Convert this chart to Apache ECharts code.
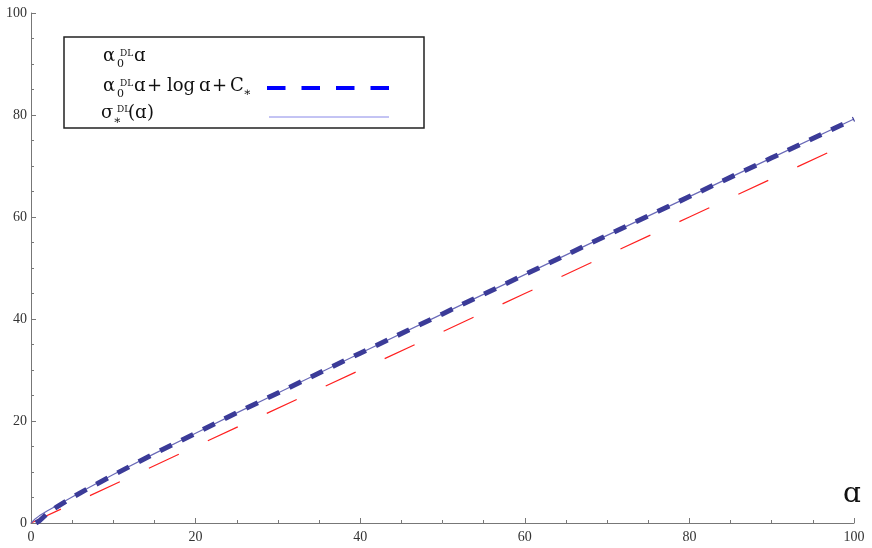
<!DOCTYPE html>
<html>
<head>
<meta charset="utf-8">
<script src="https://cdn.jsdelivr.net/npm/echarts@6/dist/echarts.min.js"></script>
<style>
  html, body { margin: 0; padding: 0; background: #fff; }
  #chart { width: 872px; height: 548px; }
</style>
</head>
<body>
<div id="chart"></div>
<script>
// values

// alpha0 * a (red long dashes)
const linA = [0, 20, 40, 60, 80, 100];
const linVals = [0, 15, 30, 45, 60, 75];

// alpha0 * a + log a + C* (thick dashed)
const asymA = [0.6, 1, 2, 3, 5, 7, 10, 15, 20, 25, 30, 40, 50, 60, 70, 80, 90, 100];
const asymVals = [0, 0.4, 1.9, 3.0, 5.0, 6.8, 9.4, 13.6, 17.6, 21.6, 25.5, 33.3, 41.0, 48.7, 56.4, 64.0, 71.6, 79.2];

// sigma*(a) (thin line)
const sigA = [0, 0.5, 1, 2, 3, 5, 7, 10, 15, 20, 25, 30, 40, 50, 60, 70, 80, 90, 100];
const sigVals = [0, 0.8, 1.4, 2.4, 3.3, 5.1, 6.9, 9.5, 13.6, 17.6, 21.6, 25.5, 33.3, 41.0, 48.7, 56.4, 64.0, 71.6, 79.2];

const serif = '"Liberation Serif", "DejaVu Serif", serif';
const mathFont = '"DejaVu Serif", serif';
const axisGray = '#777';

// text piece placed on a baseline
const txt = (x, base, text, size) => ({
  type: 'text',
  left: x,
  top: base - size * 0.76,
  z: 12,
  style: { text: text, font: size + 'px ' + mathFont, fill: '#111' }
});

const zip = (xs, ys) => xs.map((x, i) => [x, ys[i]]);

const chart = echarts.init(document.getElementById('chart'));

const axisCommon = {
  type: 'value',
  min: 0,
  max: 100,
  interval: 20,
  axisLine: { show: true, onZero: false, lineStyle: { color: axisGray, width: 1 } },
  axisTick: { show: true, inside: true, length: 5, lineStyle: { color: axisGray } },
  minorTick: { show: true, splitNumber: 4, length: 3, lineStyle: { color: axisGray } },
  splitLine: { show: false },
  axisLabel: { color: '#333', fontFamily: serif, fontSize: 14 }
};

const L1 = 61, L2 = 91, L3 = 118;
const M = 18;   // main legend glyph size

chart.setOption({
  animation: false,
  backgroundColor: '#fff',
  grid: { left: 31, right: 18, top: 13, bottom: 25 },
  xAxis: Object.assign({}, axisCommon, {
    axisLabel: Object.assign({}, axisCommon.axisLabel, { margin: 7 })
  }),
  yAxis: Object.assign({}, axisCommon, {
    axisLabel: Object.assign({}, axisCommon.axisLabel, { margin: 4 })
  }),
  series: [
    {
      type: 'line',
      data: zip(linA, linVals),
      symbol: 'none',
      lineStyle: { color: '#ff2020', width: 1.2, type: [33, 32] },
      z: 2
    },
    {
      type: 'line',
      data: zip(sigA, sigVals),
      symbol: 'none',
      lineStyle: { color: '#6a6ab8', width: 1.2 },
      z: 3
    },
    {
      type: 'line',
      data: zip(asymA, asymVals),
      symbol: 'none',
      lineStyle: { color: '#3b3b98', width: 5, type: [13, 11], cap: 'butt' },
      z: 4
    }
  ],
  graphic: [
    // axis name
    txt(843, 502, 'ɑ', 28),
    // legend box
    {
      type: 'rect',
      shape: { x: 64, y: 37, width: 360, height: 91 },
      style: { fill: '#fff', stroke: '#222', lineWidth: 1.5 },
      z: 10
    },
    {
      type: 'line',
      shape: { x1: 267, y1: 88, x2: 389, y2: 88 },
      style: { stroke: '#0000ff', lineWidth: 4, lineDash: [18.5, 16] },
      z: 11
    },
    {
      type: 'line',
      shape: { x1: 269, y1: 117, x2: 389, y2: 117 },
      style: { stroke: '#8888e8', lineWidth: 1 },
      z: 11
    },
    // line 1
    txt(103, L1, 'α', M), txt(117, L1 + 6, '0', 11), txt(120, L1 - 5, 'DL', 9), txt(134, L1, 'ɑ', M),
    // line 2
    txt(103, L2, 'α', M), txt(117, L2 + 6, '0', 11), txt(120, L2 - 5, 'DL', 9), txt(134, L2, 'ɑ', M),
    txt(147, L2, '+', M), txt(167, L2, 'log', M), txt(199, L2, 'ɑ', M), txt(212, L2, '+', M),
    txt(230, L2, 'C', M), txt(243, L2 + 5, '∗', 12),
    // line 3
    txt(101, L3, 'σ', M), txt(113, L3 + 6, '∗', 12), txt(117, L3 - 6, 'DL', 9),
    txt(128, L3, '(', M), txt(135, L3, 'ɑ', M), txt(147, L3, ')', M)
  ]
});
</script>
</body>
</html>
